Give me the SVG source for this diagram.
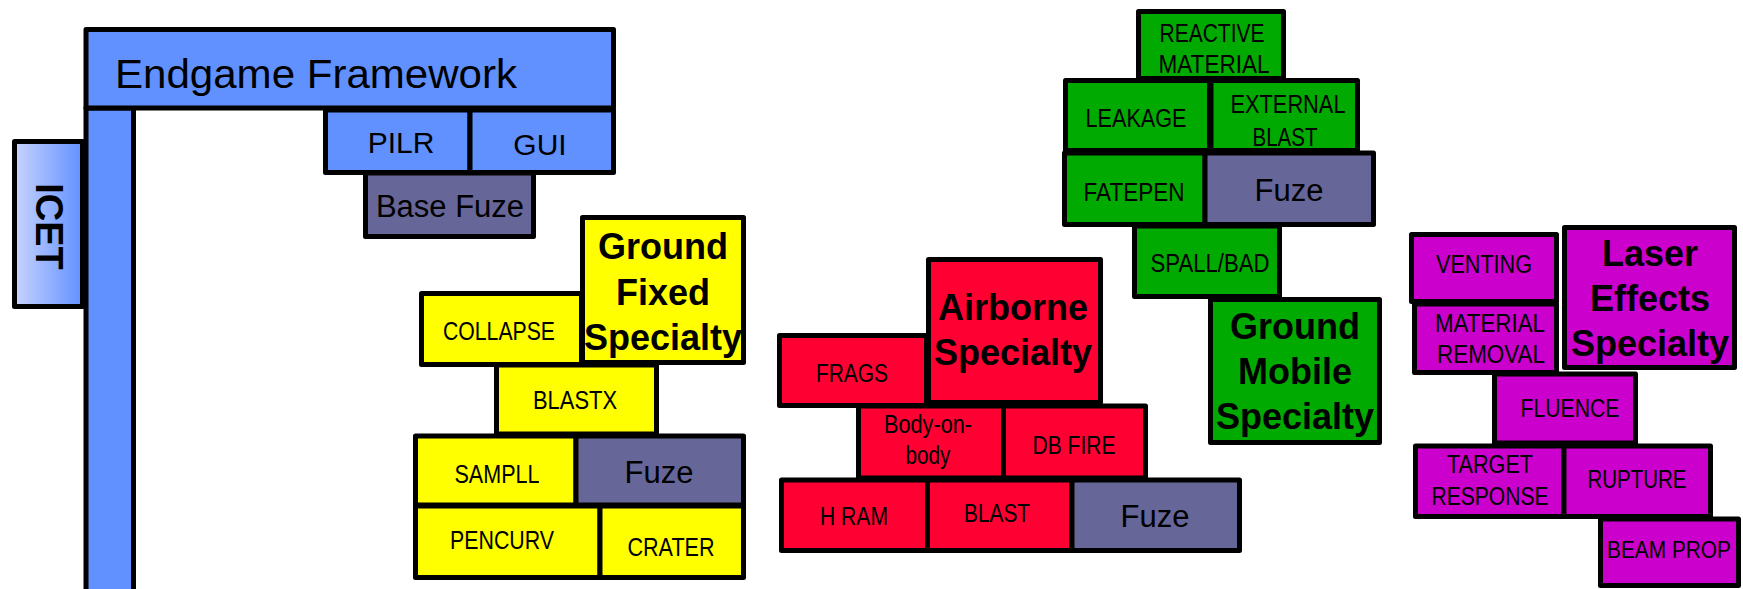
<svg xmlns="http://www.w3.org/2000/svg" width="1743" height="589" viewBox="0 0 1743 589">
<defs>
<linearGradient id="icetGrad" x1="0" y1="0" x2="1" y2="0">
<stop offset="0" stop-color="#C8D4FF"/>
<stop offset="1" stop-color="#6190FF"/>
</linearGradient>
<style>
rect{stroke:#000;stroke-width:5;stroke-linejoin:round}
.blue{fill:#6190FF}
.fuze{fill:#666699}
.yel{fill:#FFFF00}
.red{fill:#FF0033}
.grn{fill:#00AA00}
.mag{fill:#CC00CC}
text{font-family:"Liberation Sans",Arial,sans-serif;fill:#000;text-anchor:middle}
.s{font-size:25px}
.h{font-size:36px;font-weight:bold}
.f{font-size:31px}
.m{font-size:30px}
</style>
</defs>
<rect width="1743" height="589" fill="#fff" style="stroke:none"/>

<g id="connectors"></g>

<g id="icet">
<rect x="14.5" y="141.5" width="68" height="165" fill="url(#icetGrad)"/>
<text transform="translate(36,226.5) rotate(90)" style="font-size:38px;font-weight:bold">ICET</text>
</g>
<g id="framework-bar"><rect class="blue" x="86" y="108" width="47.5" height="520"/></g>
<g id="endgame-framework">
<rect class="blue" x="86" y="29.5" width="527.5" height="78.5"/>
<text x="115" y="88" style="font-size:40px;text-anchor:start" textLength="402" lengthAdjust="spacingAndGlyphs">Endgame Framework</text>
</g>
<g id="pilr"><rect class="blue" x="325.5" y="110" width="144.5" height="62.5"/><text class="m" x="401" y="153">PILR</text></g>
<g id="gui"><rect class="blue" x="470" y="110" width="143.5" height="62.5"/><text class="m" x="540" y="155">GUI</text></g>
<g id="base-fuze"><rect class="fuze" x="365.5" y="173" width="168" height="63.5"/><text class="f" x="450" y="217">Base Fuze</text></g>

<!-- Ground Fixed -->
<g id="ground-fixed-specialty"><rect class="yel" x="582.5" y="217.5" width="161" height="145"/>
<text class="h" x="663" y="259">Ground</text><text class="h" x="663" y="305">Fixed</text><text class="h" x="663" y="350">Specialty</text></g>
<g id="collapse"><rect class="yel" x="421.5" y="293.5" width="160" height="71"/><text class="s" x="499" y="340" style="font-size:26px" textLength="112" lengthAdjust="spacingAndGlyphs">COLLAPSE</text></g>
<g id="blastx"><rect class="yel" x="496.5" y="365" width="160" height="69"/><text class="s" x="575" y="409" textLength="84" lengthAdjust="spacingAndGlyphs">BLASTX</text></g>
<g id="sampll"><rect class="yel" x="415.5" y="436" width="160.5" height="69"/><text class="s" x="497" y="483" textLength="85" lengthAdjust="spacingAndGlyphs">SAMPLL</text></g>
<g id="fuze-ground-fixed"><rect class="fuze" x="576" y="436" width="167.5" height="69"/><text class="f" x="659" y="483">Fuze</text></g>
<g id="pencurv"><rect class="yel" x="415.5" y="506" width="184.5" height="71.5"/><text class="s" x="502" y="549" textLength="104" lengthAdjust="spacingAndGlyphs">PENCURV</text></g>
<g id="crater"><rect class="yel" x="600" y="506" width="143.5" height="71.5"/><text class="s" x="671" y="556" textLength="87" lengthAdjust="spacingAndGlyphs">CRATER</text></g>

<!-- Airborne -->
<g id="airborne-specialty"><rect class="red" x="928.5" y="259.5" width="172" height="143"/>
<text class="h" x="1013" y="320">Airborne</text><text class="h" x="1013" y="365">Specialty</text></g>
<g id="frags"><rect class="red" x="779.5" y="335.5" width="147" height="70"/><text class="s" x="852" y="382" textLength="72" lengthAdjust="spacingAndGlyphs">FRAGS</text></g>
<g id="body-on-body"><rect class="red" x="858.5" y="406" width="145" height="72"/>
<text class="s" x="928" y="433" textLength="88" lengthAdjust="spacingAndGlyphs">Body-on-</text><text class="s" x="928" y="464" textLength="45" lengthAdjust="spacingAndGlyphs">body</text></g>
<g id="db-fire"><rect class="red" x="1003.5" y="406" width="142" height="72"/><text class="s" x="1074" y="454" textLength="83" lengthAdjust="spacingAndGlyphs">DB FIRE</text></g>
<g id="h-ram"><rect class="red" x="781.5" y="480" width="146" height="70.5"/><text class="s" x="854" y="525" textLength="68" lengthAdjust="spacingAndGlyphs">H RAM</text></g>
<g id="blast-airborne"><rect class="red" x="927.5" y="480" width="144.5" height="70.5"/><text class="s" x="997" y="522" textLength="66" lengthAdjust="spacingAndGlyphs">BLAST</text></g>
<g id="fuze-airborne"><rect class="fuze" x="1072" y="480" width="167.5" height="70.5"/><text class="f" x="1155" y="527">Fuze</text></g>

<!-- Ground Mobile -->
<g id="reactive-material"><rect class="grn" x="1138.5" y="11.5" width="145" height="67"/>
<text class="s" x="1212" y="42" textLength="105" lengthAdjust="spacingAndGlyphs">REACTIVE</text><text class="s" x="1214" y="73" textLength="111" lengthAdjust="spacingAndGlyphs">MATERIAL</text></g>
<g id="leakage"><rect class="grn" x="1065.5" y="80.5" width="144" height="70"/><text class="s" x="1136" y="127" textLength="101" lengthAdjust="spacingAndGlyphs">LEAKAGE</text></g>
<g id="external-blast"><rect class="grn" x="1211" y="80.5" width="146.5" height="70"/>
<text class="s" x="1288" y="113" textLength="115" lengthAdjust="spacingAndGlyphs">EXTERNAL</text><text class="s" x="1285" y="146" textLength="65" lengthAdjust="spacingAndGlyphs">BLAST</text></g>
<g id="fatepen"><rect class="grn" x="1064.5" y="153" width="140.5" height="71.5"/><text class="s" x="1134" y="201" textLength="101" lengthAdjust="spacingAndGlyphs">FATEPEN</text></g>
<g id="fuze-ground-mobile"><rect class="fuze" x="1205" y="153" width="168.5" height="71.5"/><text class="f" x="1289" y="201">Fuze</text></g>
<g id="spall-bad"><rect class="grn" x="1134.5" y="226" width="145" height="70.5"/><text class="s" x="1210" y="272" textLength="119" lengthAdjust="spacingAndGlyphs">SPALL/BAD</text></g>
<g id="ground-mobile-specialty"><rect class="grn" x="1210.5" y="299.5" width="169" height="143"/>
<text class="h" x="1295" y="339">Ground</text><text class="h" x="1295" y="384">Mobile</text><text class="h" x="1295" y="429">Specialty</text></g>

<!-- Laser -->
<g id="venting"><rect class="mag" x="1411.5" y="234.5" width="145" height="67"/><text class="s" x="1484" y="273" textLength="96" lengthAdjust="spacingAndGlyphs">VENTING</text></g>
<g id="laser-effects-specialty"><rect class="mag" x="1564.5" y="227.5" width="170" height="140"/>
<text class="h" x="1650" y="266">Laser</text><text class="h" x="1650" y="311">Effects</text><text class="h" x="1650" y="356">Specialty</text></g>
<g id="material-removal"><rect class="mag" x="1414.5" y="304" width="142" height="68.5"/>
<text class="s" x="1490" y="332" textLength="110" lengthAdjust="spacingAndGlyphs">MATERIAL</text><text class="s" x="1491" y="363" textLength="108" lengthAdjust="spacingAndGlyphs">REMOVAL</text></g>
<g id="fluence"><rect class="mag" x="1494.5" y="374" width="141" height="69"/><text class="s" x="1570" y="417" textLength="99" lengthAdjust="spacingAndGlyphs">FLUENCE</text></g>
<g id="target-response"><rect class="mag" x="1415.5" y="446" width="148.5" height="70.5"/>
<text class="s" x="1490" y="473" textLength="86" lengthAdjust="spacingAndGlyphs">TARGET</text><text class="s" x="1490" y="505" textLength="117" lengthAdjust="spacingAndGlyphs">RESPONSE</text></g>
<g id="rupture"><rect class="mag" x="1564" y="446" width="146.5" height="70.5"/><text class="s" x="1637" y="488" textLength="99" lengthAdjust="spacingAndGlyphs">RUPTURE</text></g>
<g id="beam-prop"><rect class="mag" x="1600.5" y="519" width="138" height="66.5"/><text class="s" x="1669" y="558" style="font-size:23px" textLength="124" lengthAdjust="spacingAndGlyphs">BEAM PROP</text></g>
</svg>
